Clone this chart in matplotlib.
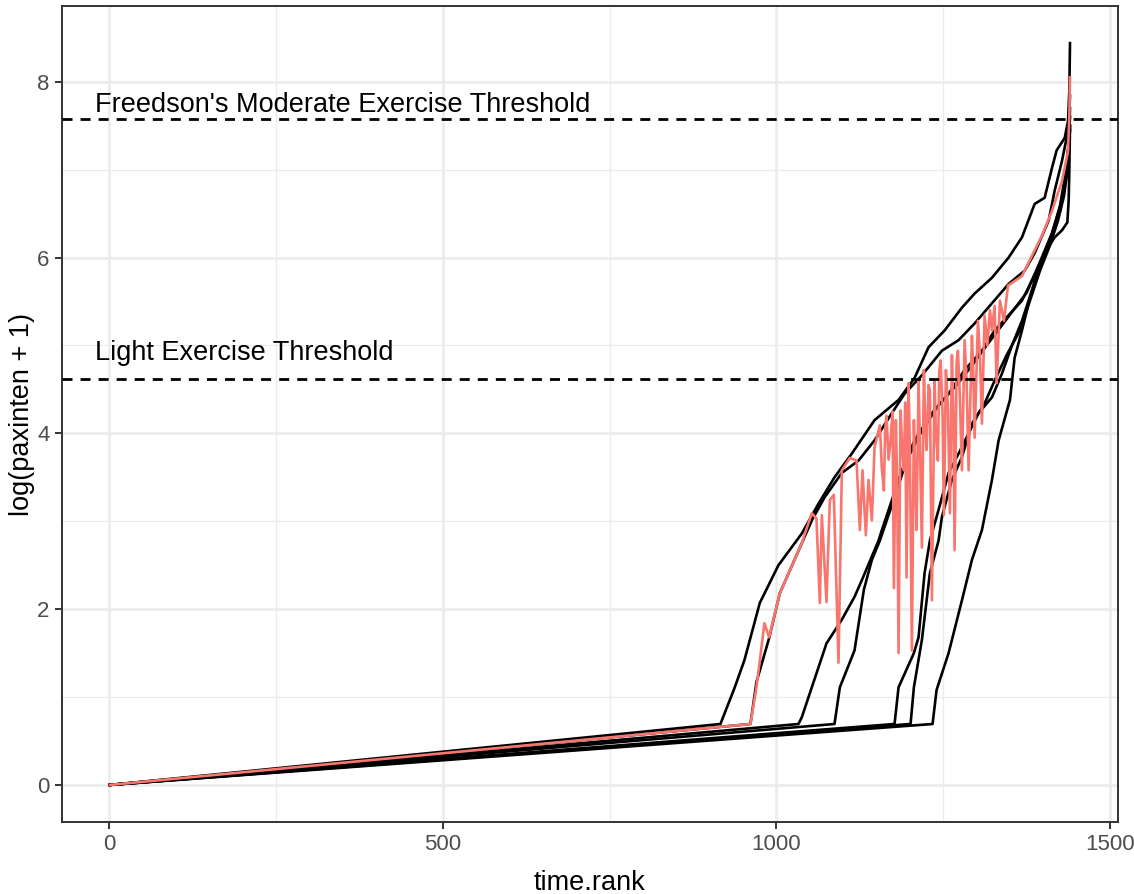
import matplotlib
matplotlib.use("Agg")
import matplotlib.pyplot as plt
import numpy as np

# ---------------- data ----------------
curve1 = [(1, 0), (916, 0.693), (937, 1.10), (952, 1.42), (975, 2.07), (1003, 2.50),
          (1038, 2.86), (1063, 3.20), (1087, 3.50), (1113, 3.77), (1147, 4.15),
          (1183, 4.38), (1207, 4.63), (1228, 4.98), (1252, 5.17), (1278, 5.43),
          (1297, 5.59), (1323, 5.77), (1348, 6.00), (1368, 6.23), (1387, 6.61),
          (1402, 6.68), (1413, 7.02), (1420, 7.22), (1432, 7.36), (1437, 7.55),
          (1439, 7.90), (1440, 8.44)]
curve2 = [(1, 0), (1033, 0.693), (1038, 0.77), (1075, 1.61), (1098, 1.88), (1117, 2.14),
          (1128, 2.33), (1153, 2.78), (1158, 2.90), (1188, 3.58), (1207, 3.92),
          (1233, 4.23), (1258, 4.45), (1282, 4.72), (1308, 4.94), (1327, 5.17),
          (1368, 5.51), (1390, 5.85), (1410, 6.19), (1425, 6.59), (1434, 6.99),
          (1438, 7.30), (1440, 7.60)]
curve3 = [(1, 0), (1087, 0.693), (1095, 1.11), (1117, 1.53), (1131, 2.22), (1143, 2.56),
          (1155, 2.78), (1173, 3.18), (1195, 3.69), (1218, 4.03), (1243, 4.32),
          (1270, 4.55), (1293, 4.77), (1315, 5.00), (1338, 5.23), (1375, 5.60),
          (1395, 5.95), (1413, 6.28), (1427, 6.62), (1435, 7.00), (1439, 7.40),
          (1440, 7.70)]
curve4 = [(1, 0), (1177, 0.693), (1183, 1.11), (1206, 1.50), (1213, 1.68), (1222, 2.41),
          (1230, 2.78), (1243, 3.13), (1258, 3.55), (1273, 3.77), (1288, 4.00),
          (1303, 4.23), (1323, 4.41), (1338, 4.68), (1353, 5.00), (1368, 5.28),
          (1383, 5.63), (1398, 5.94), (1413, 6.25), (1425, 6.53), (1434, 6.88),
          (1438, 7.22), (1440, 7.50)]
curve5 = [(1, 0), (1201, 0.693), (1206, 1.11), (1218, 1.65), (1230, 2.41), (1243, 2.78),
          (1248, 3.05), (1263, 3.47), (1278, 3.73), (1293, 4.11), (1312, 4.34),
          (1327, 4.60), (1345, 4.89), (1365, 5.17), (1380, 5.51), (1395, 5.85),
          (1410, 6.14), (1422, 6.42), (1431, 6.70), (1437, 7.05), (1439, 7.35),
          (1440, 7.45)]
curve6 = [(1, 0), (1234, 0.693), (1240, 1.08), (1258, 1.50), (1278, 2.10), (1293, 2.56),
          (1308, 2.90), (1323, 3.47), (1333, 3.92), (1350, 4.38), (1357, 4.86),
          (1368, 5.17), (1378, 5.48), (1387, 5.74), (1402, 6.05), (1417, 6.23),
          (1428, 6.31), (1436, 6.40), (1438, 6.65), (1439, 7.00), (1440, 7.50)]
curve7 = [(1, 0), (961, 0.693), (970, 1.17), (989, 1.67), (1005, 2.18), (1038, 2.75),
          (1053, 3.01), (1072, 3.27), (1098, 3.55), (1123, 3.69), (1147, 3.92),
          (1173, 4.23), (1192, 4.45), (1218, 4.66), (1248, 4.94), (1273, 5.06),
          (1297, 5.25), (1323, 5.48), (1348, 5.70), (1372, 5.85), (1387, 6.05),
          (1408, 6.42), (1417, 6.76), (1428, 7.10), (1437, 7.44), (1439, 7.67),
          (1440, 7.84)]
highlight = [(1, 0), (961, 0.693), (970, 1.11), (982, 1.84), (989, 1.68), (1005, 2.18),
             (1038, 2.75), (1048, 2.98), (1053, 3.09), (1060, 3.03), (1065, 2.07),
             (1068, 3.07), (1075, 2.08), (1080, 3.24), (1086, 3.30), (1093, 1.39),
             (1098, 3.58), (1110, 3.72), (1120, 3.69), (1125, 2.90), (1129, 3.58),
             (1134, 2.84), (1138, 3.47), (1143, 3.01), (1147, 3.84), (1155, 4.09),
             (1158, 3.60), (1161, 3.35), (1163, 4.05), (1165, 4.20), (1168, 3.70),
             (1171, 3.92), (1174, 4.25), (1176, 2.24), (1179, 4.15), (1181, 3.40),
             (1183, 1.50), (1186, 4.26), (1188, 3.90), (1191, 3.58), (1193, 4.35),
             (1195, 2.36), (1198, 4.57), (1200, 3.80), (1203, 1.53), (1206, 4.15),
             (1208, 3.50), (1210, 2.90), (1213, 4.60), (1215, 3.90), (1218, 2.70),
             (1221, 4.72), (1223, 4.10), (1225, 3.81), (1228, 4.55), (1230, 4.49),
             (1233, 2.10), (1237, 4.60), (1239, 4.00), (1242, 3.69), (1244, 4.70),
             (1246, 4.83), (1249, 4.20), (1251, 3.07), (1254, 4.72), (1257, 4.30),
             (1260, 3.09), (1263, 4.89), (1265, 4.30), (1267, 2.67), (1270, 4.80),
             (1272, 4.94), (1275, 4.40), (1278, 3.58), (1282, 5.06), (1285, 4.60),
             (1288, 3.58), (1293, 5.11), (1295, 4.70), (1297, 3.95), (1302, 5.28),
             (1305, 4.90), (1308, 4.11), (1312, 5.34), (1316, 5.00), (1320, 5.40),
             (1323, 5.17), (1327, 5.45), (1330, 4.57), (1335, 5.51), (1341, 5.28),
             (1347, 5.68), (1368, 5.79), (1383, 6.02), (1398, 6.25), (1413, 6.53),
             (1428, 6.87), (1437, 7.21), (1439, 7.61), (1440, 8.05)]

black_curves = [curve1, curve2, curve3, curve4, curve5, curve6, curve7]

thresholds = [np.log(1952 + 1), np.log(100 + 1)]
threshold_labels = ["Freedson's Moderate Exercise Threshold", "Light Exercise Threshold"]
label_pos = [(-21, 7.66), (-21, 4.84)]

x_ticks = [0, 500, 1000, 1500]
y_ticks = [0, 2, 4, 6, 8]

# ---------------- figure ----------------
plt.rcParams['font.family'] = ['Liberation Sans', 'DejaVu Sans']
fig = plt.figure(figsize=(11.34, 8.94), dpi=100)
ax = fig.add_axes([62 / 1134, 1 - 822 / 894, (1118 - 62) / 1134, (822 - 6) / 894])

grid_col = '#EBEBEB'
for xm in [250, 750, 1250]:
    ax.axvline(xm, color=grid_col, lw=0.9, zorder=0)
for ym in [1, 3, 5, 7]:
    ax.axhline(ym, color=grid_col, lw=0.9, zorder=0)
for xm in x_ticks:
    ax.axvline(xm, color=grid_col, lw=1.8, zorder=0)
for ym in y_ticks:
    ax.axhline(ym, color=grid_col, lw=1.8, zorder=0)

for c in black_curves:
    xs, ys = zip(*c)
    ax.plot(xs, ys, color='black', lw=1.9, zorder=2, solid_joinstyle='round')
hx, hy = zip(*highlight)
ax.plot(hx, hy, color='#F8766D', lw=1.9, zorder=3, solid_joinstyle='round')

for t in thresholds:
    ax.axhline(t, color='black', lw=2.0, linestyle=(0, (3.6, 2.9)), zorder=4)
for lab, (lx, ly) in zip(threshold_labels, label_pos):
    ax.text(lx, ly, lab, fontsize=19.5, color='black', ha='left', va='baseline', zorder=5)

allx = [p[0] for c in black_curves + [highlight] for p in c]
ally = [p[1] for c in black_curves + [highlight] for p in c]
xr = max(allx) - min(allx)
yr = max(ally) - min(ally)
ax.set_xlim(min(allx) - 0.05 * xr, max(allx) + 0.05 * xr)
ax.set_ylim(min(ally) - 0.05 * yr, max(ally) + 0.05 * yr)

ax.set_xticks(x_ticks)
ax.set_yticks(y_ticks)
ax.tick_params(axis='both', length=5, width=1.4, color='#333333', labelcolor='#4D4D4D',
               labelsize=16, pad=4)
for s in ax.spines.values():
    s.set_color('#333333')
    s.set_linewidth(1.4)
ax.set_facecolor('white')

ax.set_xlabel('time.rank', fontsize=19.5, color='black')
ax.xaxis.set_label_coords(0.5, -0.059)
ax.set_ylabel('log(paxinten + 1)', fontsize=19.5, color='black')
ax.yaxis.set_label_coords(-0.026, 0.5)

fig.savefig('out.png', dpi=100)
